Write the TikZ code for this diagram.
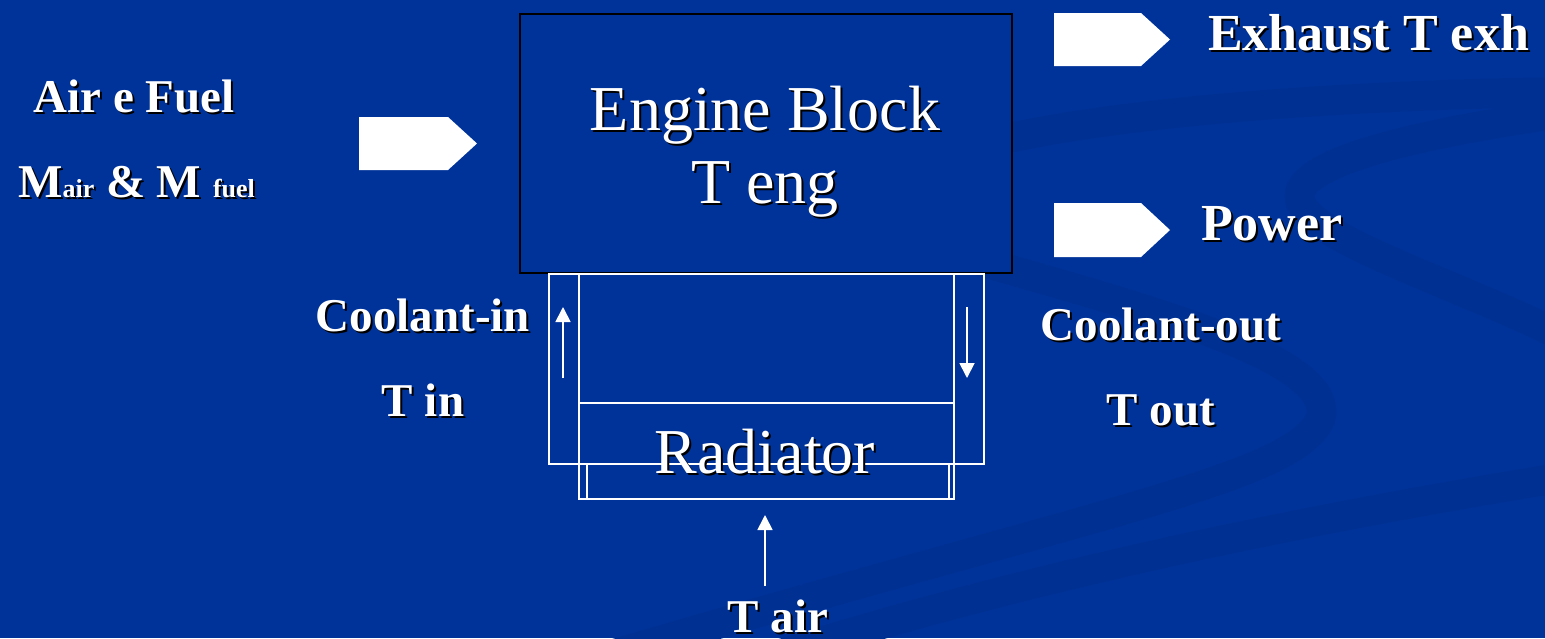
\documentclass[tikz,border=0pt]{standalone}
\usepackage{fontspec}
\setmainfont{Liberation Serif}
\usetikzlibrary{arrows.meta}
\definecolor{bgblue}{HTML}{003399}
\definecolor{swoosh}{HTML}{003092}
\newcommand{\stxt}[4]{%
  \node[#3, text=black, xshift=2pt, yshift=-2pt] (#1s) at #2 {#4};
  \node[#3] (#1) at #2 {#4};}
\tikzset{
  lbl/.style={text=white, inner sep=0pt, anchor=base, font=\fontsize{47}{52}\selectfont\bfseries},
  biglbl/.style={text=white, inner sep=0pt, anchor=base, font=\fontsize{64}{70}\selectfont},
  wline/.style={draw=white, line width=1.6pt},
  flow/.style={white, line width=1.8pt, -{Triangle[width=15pt,length=15pt]}},
  blockarrow/.style={fill=white}
}
\begin{document}
\begin{tikzpicture}[x=1pt,y=-1pt]
\fill[bgblue] (0,0) rectangle (1545,638);
\useasboundingbox (0,0) rectangle (1545,638);
% background swooshes
\begin{scope}[swoosh, line width=30pt]
\clip (0,0) rectangle (1545,638);
\draw (1570,92) .. controls (1300,95) and (1000,120) .. (910,170)
      .. controls (870,210) and (900,240) .. (983,262)
      .. controls (1150,310) and (1340,360) .. (1320,420)
      .. controls (1290,480) and (1100,510) .. (560,670);
\draw (1570,112) .. controls (1440,130) and (1290,160) .. (1300,200)
      .. controls (1310,240) and (1450,280) .. (1570,340);
\draw (700,680) .. controls (1000,580) and (1300,520) .. (1570,476);
\end{scope}
% engine block
\node[draw=black, line width=1.5pt, fill=bgblue, minimum width=492pt, minimum height=259pt, anchor=north west, inner sep=0pt] (eng) at (519,13) {};
\stxt{engt}{(765,130)}{biglbl}{Engine Block}
\stxt{tengt}{(765,203)}{biglbl}{T eng}
% radiator assembly
\coordinate (oNW) at (548,273);
\node[wline, minimum width=435pt, minimum height=190pt, anchor=north west, inner sep=0pt] (outer) at (oNW) {};
\node[wline, minimum width=375pt, minimum height=129pt, anchor=north west, inner sep=0pt] (core) at (578,273) {};
\node[wline, minimum width=375pt, minimum height=96pt, anchor=north west, inner sep=0pt] (rad) at (578,402) {};
\node[wline, minimum width=362pt, minimum height=35pt, anchor=north west, inner sep=0pt] (radb) at (586,463) {};
\stxt{radt}{(765,473)}{biglbl}{Radiator}
% coolant arrows
\coordinate (cin0) at (563,378);
\coordinate (cin1) at (563,307);
\draw[flow] (cin0) -- (cin1);
\coordinate (cout0) at (967,307);
\coordinate (cout1) at (967,378);
\draw[flow] (cout0) -- (cout1);
\coordinate (air0) at (765,586);
\coordinate (air1) at (765,515);
\draw[flow] (air0) -- (air1);
% block arrows
\fill[blockarrow] (359,117) -- (448,117) -- (477,143.5) -- (448,170) -- (359,170) -- cycle;
\fill[blockarrow] (1054,13) -- (1141,13) -- (1170,39.5) -- (1141,66) -- (1054,66) -- cycle;
\fill[blockarrow] (1054,203) -- (1141,203) -- (1170,230) -- (1141,257) -- (1054,257) -- cycle;
% labels
\stxt{exh}{(1208,50)}{lbl, anchor=base west, font=\fontsize{52}{56}\selectfont\bfseries}{Exhaust T exh}
\stxt{pow}{(1201,240)}{lbl, anchor=base west, font=\fontsize{52}{56}\selectfont\bfseries}{Power}
\stxt{aef}{(134,112)}{lbl}{Air e Fuel}
\stxt{mm}{(18,197)}{lbl, anchor=base west}{M{\fontsize{26}{30}\selectfont air} \& M {\fontsize{26}{30}\selectfont fuel}}
\stxt{cin}{(423,331)}{lbl}{Coolant-in}
\stxt{tin}{(423,416)}{lbl}{T in}
\stxt{cout}{(1161,340)}{lbl}{Coolant-out}
\stxt{tout}{(1161,425)}{lbl}{T out}
\stxt{tair}{(778,632)}{lbl}{T air}
\end{tikzpicture}
\end{document}
